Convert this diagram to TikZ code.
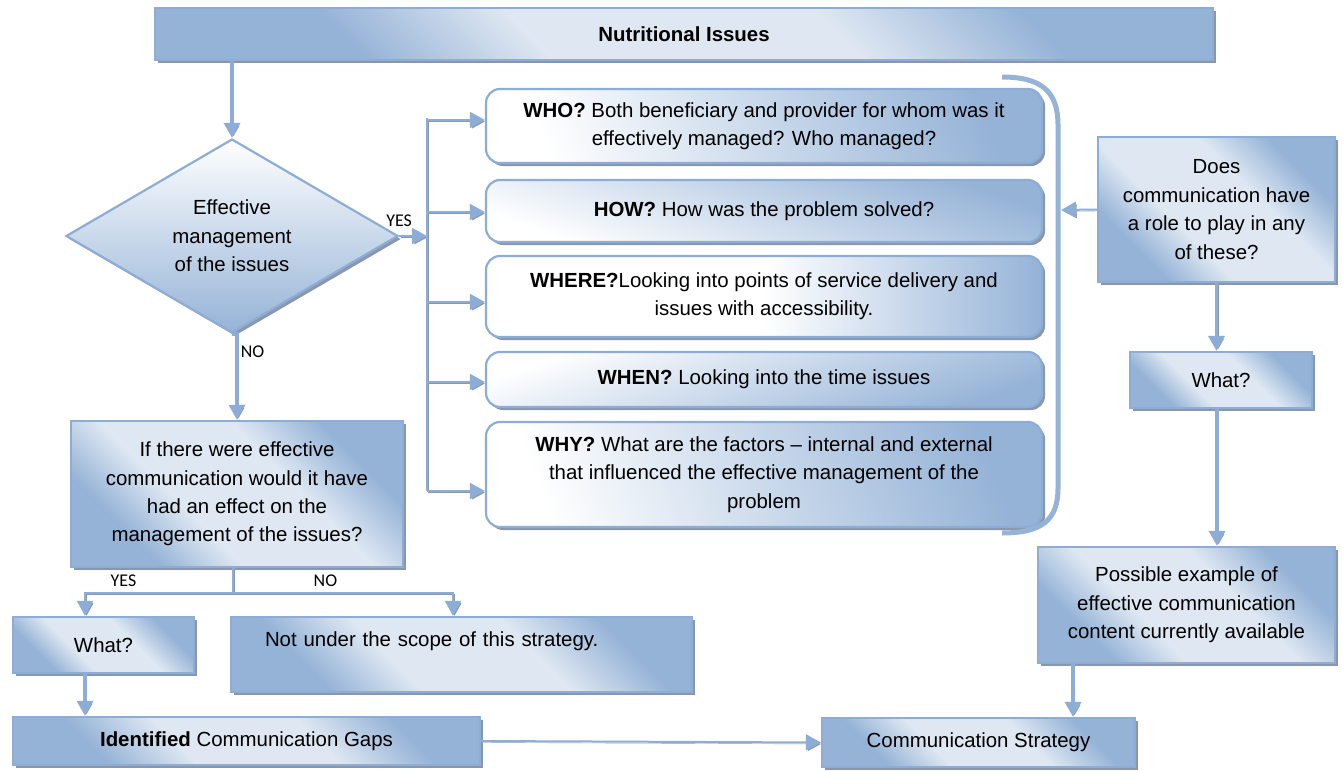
\documentclass[tikz,border=0pt]{standalone}
\usepackage{fontspec}
\setmainfont{Liberation Sans}
\newfontfamily\yesnofont{Carlito}
\usepackage{tikz}
\usetikzlibrary{arrows.meta,shapes.geometric,shadows}

\definecolor{boxline}{RGB}{141,173,214}
\definecolor{boxdark}{RGB}{149,179,215}
\definecolor{boxlight}{RGB}{222,231,242}
\definecolor{shadowgray}{RGB}{138,151,170}
\pgfdeclarehorizontalshading{wordblue}{100bp}{color(0bp)=(boxdark); color(28bp)=(boxdark); color(40bp)=(boxlight); color(60bp)=(boxlight); color(73bp)=(boxdark); color(100bp)=(boxdark)}

\begin{document}
\begin{tikzpicture}[x=1bp,y=-1bp,>={Triangle[width=16bp,length=15bp]},
  every node/.style={font=\fontsize{20.5}{28.5}\selectfont},
  boxshadow/.style={drop shadow={shadow xshift=3bp,shadow yshift=-3bp,fill=shadowgray,opacity=1}},
  sqbox/.style={draw=boxline,line width=2.2bp,boxshadow,shade,shading=wordblue,shading angle=45,align=center,inner sep=0pt},
  rbox/.style={draw=boxline,line width=2.2bp,boxshadow,rounded corners=14bp,minimum width=556bp,align=center,inner sep=0pt},
  link/.style={draw=boxline,line width=3.5bp,preaction={draw=shadowgray,transform canvas={shift={(1.5bp,-1.5bp)}}}},
  thin link/.style={link,line width=2bp},
  yesno/.style={font=\yesnofont\fontsize{18}{20}\selectfont,inner sep=2bp}]
	\useasboundingbox (0,0) rectangle (1343,770);

	% left column
	\node (top) at (684,34) [sqbox,minimum width=1058bp,minimum height=52bp] {\textbf{Nutritional Issues}};
	\node (dec) at (232,236) [diamond,aspect=1.7,draw=boxline,line width=2.2bp,boxshadow,top color=white,bottom color=boxdark,minimum width=332bp,minimum height=194bp,inner sep=0pt,align=center] {Effective\\management\\of the issues};
	\node (ifq) at (237,494) [sqbox,minimum width=332bp,minimum height=146bp] {If there were effective\\communication would it have\\had an effect on the\\management of the issues?};
	\node (whatL) at (103.5,645) [sqbox,minimum width=181bp,minimum height=56bp] {What?};
	\node (scope) at (461.5,654.5) [sqbox,align=left,text width=393bp,inner xsep=34bp,minimum height=75bp,text depth=30bp] {Not under the scope of this strategy.};
	\node (gaps) at (246.5,741) [sqbox,minimum width=467bp,minimum height=48bp] {\textbf{Identified} Communication Gaps};

	% the five questions
	\node (who) at (764,126) [rbox,minimum height=74bp,left color=white,right color=boxdark,shading angle=110] {\textbf{WHO?} Both beneficiary and provider for whom was it\\effectively managed? Who managed?};
	\node (how) at (764,211) [rbox,minimum height=62bp,top color=boxdark,bottom color=white,shading angle=-20] {\textbf{HOW?} How was the problem solved?};
	\node (where) at (764,296.5) [rbox,minimum height=81bp,left color=white,right color=boxdark,middle color=white] {\textbf{WHERE?}Looking into points of service delivery and\\issues with accessibility.};
	\node (when) at (764,379.5) [rbox,minimum height=55bp,top color=white,bottom color=boxdark,shading angle=20] {\textbf{WHEN?} Looking into the time issues};
	\node (why) at (764,474.5) [rbox,minimum height=105bp,left color=white,right color=boxdark,shading angle=110] {\textbf{WHY?} What are the factors – internal and external\\that influenced the effective management of the\\problem};

	% right column
	\node (role) at (1216.5,209.5) [sqbox,minimum width=237bp,minimum height=145bp] {Does\\communication have\\a role to play in any\\of these?};
	\node (whatR) at (1221,380) [sqbox,minimum width=182bp,minimum height=56bp] {What?};
	\node (example) at (1186.5,605) [sqbox,minimum width=297bp,minimum height=116bp] {Possible example of\\effective communication\\content currently available};
	\node (strat) at (978.5,742.5) [sqbox,minimum width=313bp,minimum height=49bp] {Communication Strategy};

	% bracket round the questions
	\draw [boxdark,line width=5bp] (1002,77) .. controls (1042,77) and (1058,92) .. (1058,125) -- (1058,488) .. controls (1058,520) and (1042,533) .. (1002,533);

	\coordinate (busTop) at (427,118);
	\coordinate (busBot) at (427,491);
	\coordinate (braceIn) at (1061,210);
	\coordinate (split) at (233,593);

	\draw [link,->] (dec.north |- top.south) -- (dec.north);
	\draw [thin link,->] (dec.east) -- (dec.east -| busTop) node[yesno,pos=0,above=6bp] {YES};
	\draw [thin link] (busTop) -- (busBot);
	\foreach \b/\y in {who/120,how/212,where/302,when/382,why/491} {
		\coordinate (tap) at (427,\y);
		\draw [thin link,->] (tap) -- (tap -| \b.west);
	}
	\draw [link,->] (dec.south) -- (ifq.north |- dec.south) -- (ifq.north) node[yesno,pos=0.2,right] {NO};

	\draw [thin link] (ifq.south -| split) -- (split);
	\draw [thin link,->] (split) -| ([xshift=-18.5bp]whatL.north) node[yesno,pos=0.37,above=3bp] {YES};
	\draw [thin link,->] (split) -| ([xshift=-8.5bp]scope.north) node[yesno,pos=0.21,above=3bp] {NO};
	\draw [link,->] ([xshift=-18.5bp]whatL.south) -- ([xshift=-18.5bp]whatL.south |- gaps.north);
	\draw [thin link,->] (gaps.east) -- (strat.west);

	\draw [thin link,->] (role.west) -- (braceIn);
	\draw [link,->] (role.south) -- (role.south |- whatR.north);
	\draw [link,->] ([xshift=-4bp]whatR.south) -- ([xshift=-4bp]whatR.south |- example.north);
	\draw [link,->] ([xshift=-113.5bp]example.south) -- ([xshift=-113.5bp]example.south |- strat.north);
\end{tikzpicture}
\end{document}
